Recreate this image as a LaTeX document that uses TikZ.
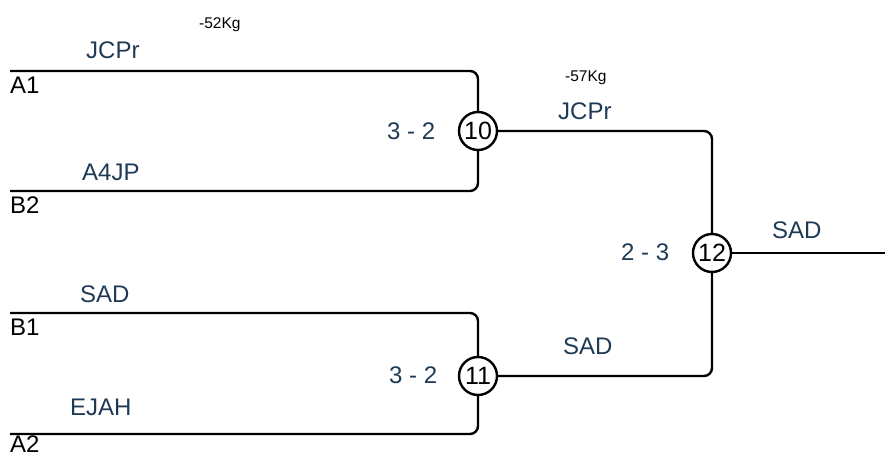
\documentclass[tikz,border=0pt]{standalone}
\usepackage{fontspec}
\setmainfont{Liberation Sans}
\definecolor{lbl}{HTML}{1F3A55}
\begin{document}
\begin{tikzpicture}[x=1pt,y=-1pt,
  line/.style={line width=2.4pt,rounded corners=8pt},
  match/.style={circle,draw,line width=2.4pt,minimum size=38pt,inner sep=0pt,font=\fontsize{25}{25}\selectfont},
  team/.style={anchor=base west,inner sep=0pt,text=lbl,font=\fontsize{24}{24}\selectfont},
  seed/.style={anchor=base west,inner sep=0pt,font=\fontsize{24}{24}\selectfont},
  wt/.style={anchor=base west,inner sep=0pt,font=\fontsize{15.5}{15.5}\selectfont}]
\useasboundingbox (0,0) rectangle (885,457);
% match nodes
\node[match] (m10) at (478,131) {10};
\node[match] (m11) at (478,376) {11};
\node[match] (m12) at (712,253) {12};
% start points
\coordinate (a1) at (10,71);
\coordinate (b2) at (10,191);
\coordinate (b1) at (10,313);
\coordinate (a2) at (10,434);
\coordinate (out) at (885,253);
% connectors
\draw[line] (a1) -| (m10);
\draw[line] (b2) -| (m10);
\draw[line] (b1) -| (m11);
\draw[line] (a2) -| (m11);
\draw[line] (m10) -| (m12);
\draw[line] (m11) -| (m12);
\draw[line] (m12) -- (out);
% labels
\node[wt] (w1) at (199,29) {-52Kg};
\node[team] (t1) at (86,59) {JCPr};
\node[seed] (s1) at (10,94) {A1};
\node[team] (t2) at (82,180) {A4JP};
\node[seed] (s2) at (10,213) {B2};
\node[team] (t3) at (80,302) {SAD};
\node[seed] (s3) at (10,335) {B1};
\node[team] (t4) at (70,415) {EJAH};
\node[seed] (s4) at (10,452) {A2};
\node[team] (r1) at (387,140) {3 - 2};
\node[team] (r2) at (389,383) {3 - 2};
\node[team] (r3) at (621,260) {2 - 3};
\node[wt] (w2) at (565,82) {-57Kg};
\node[team] (t5) at (558,120) {JCPr};
\node[team] (t6) at (563,354) {SAD};
\node[team] (t7) at (772,238) {SAD};
\end{tikzpicture}
\end{document}
